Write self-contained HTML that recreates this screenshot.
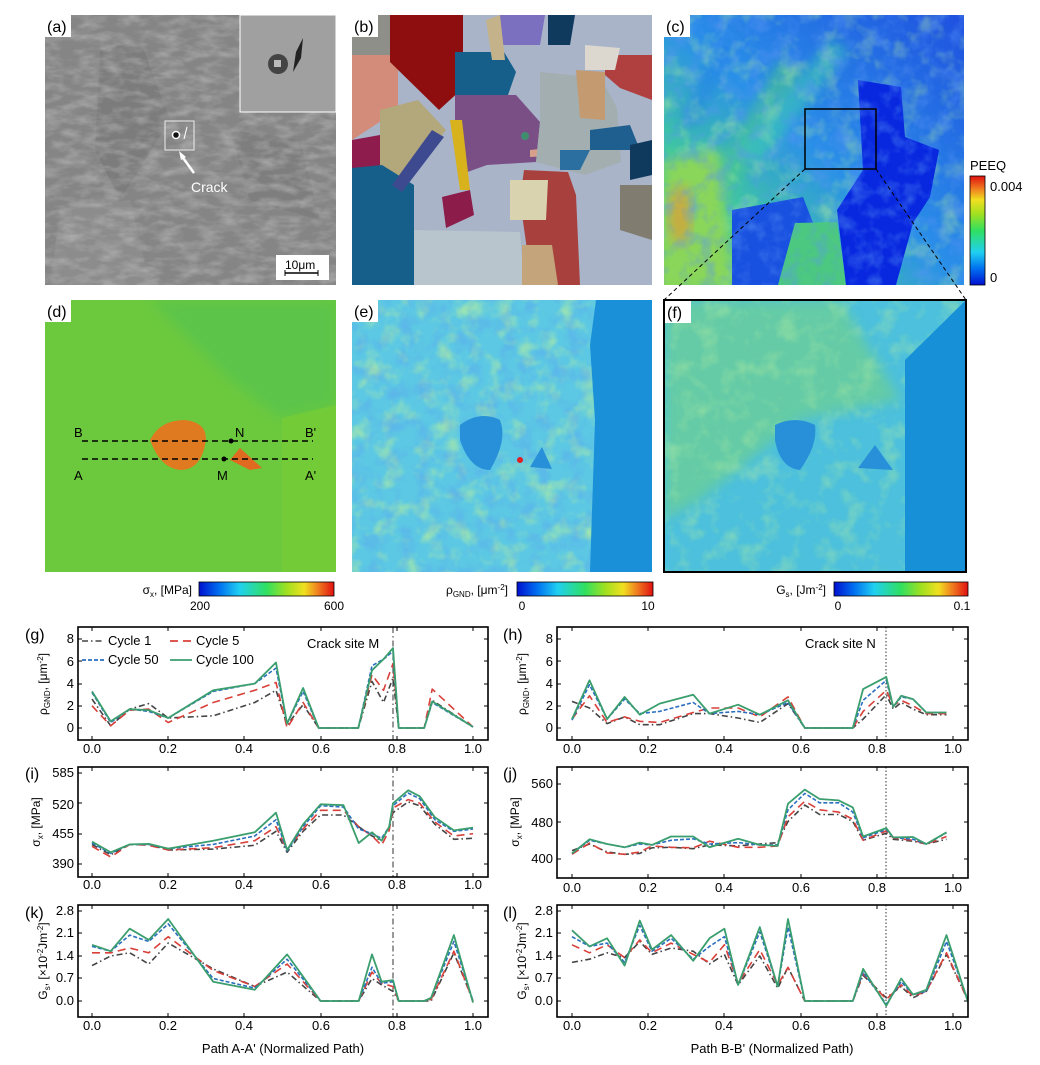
<!DOCTYPE html>
<html><head><meta charset="utf-8"><style>
html,body{margin:0;padding:0;background:#fff;}
svg{display:block;font-family:"Liberation Sans",sans-serif;}
</style></head><body>
<svg id="s" width="1040" height="1065" viewBox="0 0 1040 1065" xmlns="http://www.w3.org/2000/svg">
<defs>
<filter id="nz" x="0" y="0" width="100%" height="100%">
 <feTurbulence type="fractalNoise" baseFrequency="0.05 0.12" numOctaves="3" seed="3"/>
 <feColorMatrix values="0 0 0 0 0.5  0 0 0 0 0.5  0 0 0 0 0.5  0 0 0 1.2 -0.45"/>
</filter>
<filter id="nzc" x="0" y="0" width="100%" height="100%">
 <feTurbulence type="fractalNoise" baseFrequency="0.06" numOctaves="3" seed="7"/>
 <feColorMatrix values="0 0 0 0 0.1  0 0 0 0 0.3  0 0 0 0 0.9  0 0 0 1.6 -0.7"/>
</filter>
<filter id="nzg" x="0" y="0" width="100%" height="100%">
 <feTurbulence type="fractalNoise" baseFrequency="0.05" numOctaves="3" seed="11"/>
 <feColorMatrix values="0 0 0 0 0.45  0 0 0 0 0.85  0 0 0 0 0.35  0 0 0 1.8 -0.85"/>
</filter>
<filter id="bl"><feGaussianBlur stdDeviation="6"/></filter>
<linearGradient id="cg" x1="0" y1="1" x2="1" y2="0">
 <stop offset="0" stop-color="#8ad84a"/><stop offset="0.25" stop-color="#40c8a0"/>
 <stop offset="0.5" stop-color="#2a90e8"/><stop offset="1" stop-color="#1e50e0"/>
</linearGradient>
<linearGradient id="jet" x1="0" x2="1">
 <stop offset="0" stop-color="#0010d0"/><stop offset="0.15" stop-color="#0070f0"/>
 <stop offset="0.3" stop-color="#20d0f0"/><stop offset="0.5" stop-color="#30e060"/>
 <stop offset="0.65" stop-color="#a0e020"/><stop offset="0.78" stop-color="#f0e020"/>
 <stop offset="0.88" stop-color="#f08020"/><stop offset="1" stop-color="#e01010"/>
</linearGradient>
<linearGradient id="jetv" x1="0" y1="1" x2="0" y2="0">
 <stop offset="0" stop-color="#0010d0"/><stop offset="0.15" stop-color="#0070f0"/>
 <stop offset="0.3" stop-color="#20d0f0"/><stop offset="0.5" stop-color="#30e060"/>
 <stop offset="0.65" stop-color="#a0e020"/><stop offset="0.78" stop-color="#f0e020"/>
 <stop offset="0.88" stop-color="#f08020"/><stop offset="1" stop-color="#e01010"/>
</linearGradient>
<clipPath id="ca"><rect x="45" y="15" width="291" height="270"/></clipPath>
<clipPath id="cb"><rect x="352" y="15" width="300" height="270"/></clipPath>
<clipPath id="cc"><rect x="664" y="15" width="300" height="270"/></clipPath>
<clipPath id="cd"><rect x="45" y="300" width="291" height="272"/></clipPath>
<clipPath id="ce"><rect x="352" y="300" width="300" height="272"/></clipPath>
<clipPath id="cf"><rect x="664" y="300" width="302" height="272"/></clipPath>
<clipPath id="pg"><rect x="78" y="627" width="410" height="113"/></clipPath>
<clipPath id="pi"><rect x="78" y="767" width="410" height="110"/></clipPath>
<clipPath id="pk"><rect x="78" y="905" width="410" height="112"/></clipPath>
<clipPath id="ph"><rect x="557" y="627" width="411" height="113"/></clipPath>
<clipPath id="pj"><rect x="557" y="767" width="411" height="111"/></clipPath>
<clipPath id="pl"><rect x="557" y="905" width="411" height="112"/></clipPath>
</defs>

<!-- (a) -->
<g clip-path="url(#ca)">
<rect x="45" y="15" width="291" height="270" fill="#858585"/>
<polygon points="100,50 140,40 170,120 120,200 95,150" fill="#777" opacity="0.6"/>
<polygon points="60,210 130,200 150,285 50,285" fill="#8f8f8f" opacity="0.7"/>
<polygon points="230,130 300,140 320,220 250,200" fill="#7a7a7a" opacity="0.7"/>
<rect x="45" y="15" width="291" height="270" filter="url(#nz)"/>
<rect x="240" y="15" width="96" height="97" fill="#a0a0a0" stroke="#fff" stroke-width="1"/>
<circle cx="278" cy="64" r="10" fill="#444"/><rect x="274" y="60" width="7" height="7" fill="#bbb"/>
<path d="M296,52 L303,38 L301,58 L293,72Z" fill="#222"/>
<rect x="165" y="121" width="29" height="29" fill="none" stroke="#eee" stroke-width="1"/>
<circle cx="176" cy="135" r="3.5" fill="#111" stroke="#fff" stroke-width="1.5"/>
<line x1="184" y1="139" x2="187" y2="127" stroke="#fff" stroke-width="1"/>
<line x1="194" y1="173" x2="181" y2="155" stroke="#fff" stroke-width="2.5"/>
<polygon points="179,151 186,157 181,160" fill="#fff"/>
<text x="191" y="192" font-size="14" fill="#fff">Crack</text>
<rect x="276" y="255" width="53" height="25" fill="#fff"/>
<text x="285" y="269" font-size="12">10μm</text>
<line x1="285" y1="273" x2="318" y2="273" stroke="#000" stroke-width="1.5"/>
<line x1="285" y1="270" x2="285" y2="276" stroke="#000"/><line x1="318" y1="270" x2="318" y2="276" stroke="#000"/>
</g>
<rect x="45" y="15" width="26" height="22" fill="#fff"/><text x="47" y="32" font-size="16">(a)</text>

<!-- (b) -->
<g clip-path="url(#cb)">
<rect x="352" y="15" width="300" height="270" fill="#a9b4c9"/>
<polygon points="352,55 398,55 398,110 352,140" fill="#d38c7a"/>
<polygon points="352,15 400,15 400,55 352,55" fill="#8e8f88"/>
<polygon points="380,110 418,100 446,130 405,185 380,178" fill="#b3a77c"/>
<polygon points="352,140 380,135 380,185 352,190" fill="#8e1c4c"/>
<polygon points="390,15 463,15 463,88 439,110 390,62" fill="#8e0e10"/>
<polygon points="455,52 504,52 516,72 508,95 455,95" fill="#155f8a"/>
<polygon points="455,95 516,95 540,122 536,162 487,165 459,175 455,135" fill="#7a4f86"/>
<circle cx="525" cy="136" r="4" fill="#3f8f6f"/>
<polygon points="530,150 550,148 550,156 530,157" fill="#d6a08a"/>
<polygon points="540,72 601,78 617,108 621,162 585,175 536,162 540,122" fill="#a3aeb0"/>
<polygon points="524,170 568,172 576,195 580,285 532,285 520,200" fill="#a8403e"/>
<polygon points="352,168 382,165 414,185 414,285 352,285" fill="#155f8a"/>
<polygon points="414,230 520,232 524,285 414,285" fill="#b8c5cc"/>
<polygon points="510,180 548,180 546,220 510,220" fill="#dad3b0"/>
<polygon points="522,245 552,245 558,285 522,285" fill="#c4a47a"/>
<polygon points="450,120 462,120 470,190 460,190" fill="#d7b21c"/>
<polygon points="442,197 470,190 474,215 446,228" fill="#8c1c4a"/>
<polygon points="392,185 432,130 444,137 402,192" fill="#3d4a8f"/>
<polygon points="500,15 545,15 540,45 500,45" fill="#7b6fc0"/>
<polygon points="548,15 575,15 570,45 548,45" fill="#0f3a5e"/>
<polygon points="605,55 652,55 652,100 620,88 605,75" fill="#b04040"/>
<polygon points="585,45 620,48 615,70 585,70" fill="#dcd8d0"/>
<polygon points="576,70 605,72 605,120 580,118" fill="#c49a70"/>
<polygon points="590,130 630,125 640,150 590,150" fill="#1f5f8f"/>
<polygon points="630,145 652,140 652,175 630,180" fill="#0f3a5e"/>
<polygon points="620,185 652,185 652,240 620,230" fill="#807c70"/>
<polygon points="486,20 500,15 505,60 492,60" fill="#c4b38a"/>
<polygon points="560,150 590,150 580,170 560,170" fill="#2a6f9f"/>
</g>
<rect x="352" y="15" width="26" height="22" fill="#fff"/><text x="354" y="32" font-size="16">(b)</text>

<!-- (c) -->
<g clip-path="url(#cc)">
<rect x="664" y="15" width="300" height="270" fill="url(#cg)"/>
<g opacity="0.55" filter="url(#bl)">
<polygon points="700,200 780,60 800,70 720,215" fill="#50d080"/>
<polygon points="740,150 830,40 850,50 760,165" fill="#40d0b0"/>
<polygon points="680,120 720,40 735,45 695,130" fill="#2080e8"/>
</g>
<rect x="664" y="15" width="300" height="270" filter="url(#nzg)" opacity="0.6"/>
<polygon points="664,160 719,150 732,285 664,285" fill="#8ad65a" filter="url(#bl)"/>
<ellipse cx="680" cy="215" rx="12" ry="30" fill="#f09030" opacity="0.6" filter="url(#bl)"/>
<polygon points="732,210 803,197 837,285 732,285" fill="#1850e0"/>
<polygon points="795,223 837,222 846,285 778,285" fill="#4cc880"/>
<polygon points="858,80 901,87 905,137 939,150 930,197 913,223 896,285 846,285 837,210 863,170" fill="#0828e0"/>
<rect x="664" y="15" width="300" height="270" filter="url(#nzc)" opacity="0.7"/>
<rect x="805" y="109" width="71" height="60" fill="none" stroke="#000" stroke-width="1.5"/>
</g>
<rect x="664" y="15" width="26" height="22" fill="#fff"/><text x="666" y="32" font-size="16">(c)</text>
<text x="970" y="170" font-size="13">PEEQ</text>
<rect x="970" y="176" width="15" height="109" fill="url(#jetv)" stroke="#000" stroke-width="0.8"/>
<text x="990" y="191" font-size="13">0.004</text><text x="990" y="282" font-size="13">0</text>
<line x1="805" y1="169" x2="664" y2="300" stroke="#000" stroke-dasharray="4,3"/>
<line x1="876" y1="169" x2="966" y2="300" stroke="#000" stroke-dasharray="4,3"/>

<!-- (d) -->
<g clip-path="url(#cd)">
<rect x="45" y="300" width="291" height="272" fill="#6cc93e"/>
<polygon points="150,300 336,300 336,405 280,418 230,380" fill="#48c058" opacity="0.45" filter="url(#bl)"/>
<polygon points="282,418 336,405 336,572 282,572" fill="#76cc36" opacity="0.8"/>
<path d="M150,440 Q160,420 185,420 Q210,423 205,445 Q200,470 180,470 Q160,468 150,440Z" fill="#e07a20"/>
<path d="M230,460 L240,448 L262,468 L250,470Z" fill="#e06a20"/>
<line x1="82" y1="441" x2="313" y2="441" stroke="#000" stroke-width="1.5" stroke-dasharray="6,4"/>
<line x1="82" y1="459" x2="313" y2="459" stroke="#000" stroke-width="1.5" stroke-dasharray="6,4"/>
<circle cx="231" cy="441" r="2.5"/><circle cx="224" cy="459" r="2.5"/>
<text x="74" y="437" font-size="13">B</text><text x="305" y="437" font-size="13">B'</text>
<text x="74" y="480" font-size="13">A</text><text x="305" y="480" font-size="13">A'</text>
<text x="235" y="437" font-size="13">N</text><text x="217" y="480" font-size="13">M</text>
</g>
<rect x="45" y="300" width="26" height="22" fill="#fff"/><text x="47" y="317" font-size="16">(d)</text>

<!-- (e) -->
<g clip-path="url(#ce)">
<rect x="352" y="300" width="300" height="272" fill="#5cc8e4"/>
<rect x="352" y="300" width="300" height="272" filter="url(#nzg)"/>
<rect x="352" y="300" width="300" height="272" filter="url(#nzc)" opacity="0.5"/>
<polygon points="596,300 652,300 652,572 590,572 595,420 590,345" fill="#1a90d8"/>
<path d="M460,425 Q480,410 500,420 Q508,440 490,470 Q470,470 460,440Z" fill="#2890d8"/>
<polygon points="530,467 542,447 552,469" fill="#2890d8"/>
<circle cx="520" cy="460" r="3" fill="#e02020"/>
</g>
<rect x="352" y="300" width="26" height="22" fill="#fff"/><text x="354" y="317" font-size="16">(e)</text>

<!-- (f) -->
<g clip-path="url(#cf)">
<rect x="664" y="300" width="302" height="272" fill="#4cc0dc"/>
<polygon points="664,300 840,300 900,400 800,420 700,500 664,520" fill="#70d090" opacity="0.7" filter="url(#bl)"/>
<rect x="664" y="300" width="302" height="272" filter="url(#nzg)" opacity="0.6"/>
<polygon points="905,360 966,300 966,572 905,572" fill="#1890d8"/>
<path d="M775,425 Q795,415 815,425 Q818,445 800,470 Q780,468 775,440Z" fill="#2890d8"/>
<polygon points="858,468 875,445 893,470" fill="#2890d8"/>
</g>
<rect x="664" y="300" width="302" height="272" fill="none" stroke="#000" stroke-width="2"/>
<rect x="665" y="301" width="26" height="22" fill="#fff"/><text x="667" y="318" font-size="16">(f)</text>

<!-- colorbars -->
<g font-size="12">
<text x="192" y="594" text-anchor="end">σ<tspan font-size="8" dy="3">x</tspan><tspan dy="-3">, [MPa]</tspan></text>
<rect x="199" y="582" width="135" height="14" fill="url(#jet)" stroke="#000" stroke-width="0.8"/>
<text x="200" y="610" text-anchor="middle">200</text><text x="334" y="610" text-anchor="middle">600</text>
<text x="508" y="594" text-anchor="end">ρ<tspan font-size="8" dy="3">GND</tspan><tspan dy="-3">, [μm</tspan><tspan font-size="8" dy="-4">-2</tspan><tspan dy="4">]</tspan></text>
<rect x="517" y="582" width="136" height="14" fill="url(#jet)" stroke="#000" stroke-width="0.8"/>
<text x="522" y="610" text-anchor="middle">0</text><text x="648" y="610" text-anchor="middle">10</text>
<text x="826" y="594" text-anchor="end">G<tspan font-size="8" dy="3">s</tspan><tspan dy="-3">, [Jm</tspan><tspan font-size="8" dy="-4">-2</tspan><tspan dy="4">]</tspan></text>
<rect x="834" y="582" width="134" height="14" fill="url(#jet)" stroke="#000" stroke-width="0.8"/>
<text x="838" y="610" text-anchor="middle">0</text><text x="962" y="610" text-anchor="middle">0.1</text>
</g>

<!-- plot frames & text -->
<g font-size="13" fill="#000">
<text x="25" y="640" font-size="16">(g)</text><text x="503" y="640" font-size="16">(h)</text>
<text x="25" y="779" font-size="16">(i)</text><text x="503" y="779" font-size="16">(j)</text>
<text x="25" y="918" font-size="16">(k)</text><text x="503" y="918" font-size="16">(l)</text>
<g text-anchor="end">
<text x="74" y="732">0</text><text x="74" y="710">2</text><text x="74" y="688">4</text><text x="74" y="666">6</text><text x="74" y="643">8</text>
<text x="553" y="732">0</text><text x="553" y="710">2</text><text x="553" y="688">4</text><text x="553" y="666">6</text><text x="553" y="643">8</text>
<text x="74" y="868">390</text><text x="74" y="838">455</text><text x="74" y="809">520</text><text x="74" y="777">585</text>
<text x="553" y="863">400</text><text x="553" y="827">480</text><text x="553" y="788">560</text>
<text x="74" y="1005">0.0</text><text x="74" y="982">0.7</text><text x="74" y="960">1.4</text><text x="74" y="937">2.1</text><text x="74" y="915">2.8</text>
<text x="553" y="1005">0.0</text><text x="553" y="982">0.7</text><text x="553" y="960">1.4</text><text x="553" y="937">2.1</text><text x="553" y="915">2.8</text>
</g>
<g text-anchor="middle">
<text x="92" y="753">0.0</text><text x="168" y="753">0.2</text><text x="244" y="753">0.4</text><text x="321" y="753">0.6</text><text x="397" y="753">0.8</text><text x="473" y="753">1.0</text>
<text x="92" y="889">0.0</text><text x="168" y="889">0.2</text><text x="244" y="889">0.4</text><text x="321" y="889">0.6</text><text x="397" y="889">0.8</text><text x="473" y="889">1.0</text>
<text x="92" y="1030">0.0</text><text x="168" y="1030">0.2</text><text x="244" y="1030">0.4</text><text x="321" y="1030">0.6</text><text x="397" y="1030">0.8</text><text x="473" y="1030">1.0</text>
<text x="572" y="753">0.0</text><text x="648" y="753">0.2</text><text x="724" y="753">0.4</text><text x="801" y="753">0.6</text><text x="877" y="753">0.8</text><text x="953" y="753">1.0</text>
<text x="572" y="892">0.0</text><text x="648" y="892">0.2</text><text x="724" y="892">0.4</text><text x="801" y="892">0.6</text><text x="877" y="892">0.8</text><text x="953" y="892">1.0</text>
<text x="572" y="1030">0.0</text><text x="648" y="1030">0.2</text><text x="724" y="1030">0.4</text><text x="801" y="1030">0.6</text><text x="877" y="1030">0.8</text><text x="953" y="1030">1.0</text>
<text x="283" y="1053">Path A-A'  (Normalized Path)</text>
<text x="772" y="1053">Path B-B' (Normalized Path)</text>
</g>
<g font-size="12" text-anchor="middle">
<text transform="translate(47,684) rotate(-90)">ρ<tspan font-size="8" dy="3">GND</tspan><tspan dy="-3">, [μm</tspan><tspan font-size="8" dy="-4">-2</tspan><tspan dy="4">]</tspan></text>
<text transform="translate(526,684) rotate(-90)">ρ<tspan font-size="8" dy="3">GND</tspan><tspan dy="-3">, [μm</tspan><tspan font-size="8" dy="-4">-2</tspan><tspan dy="4">]</tspan></text>
<text transform="translate(40,822) rotate(-90)">σ<tspan font-size="8" dy="3">x</tspan><tspan dy="-3">, [MPa]</tspan></text>
<text transform="translate(519,822) rotate(-90)">σ<tspan font-size="8" dy="3">x</tspan><tspan dy="-3">, [MPa]</tspan></text>
<text transform="translate(47,961) rotate(-90)">G<tspan font-size="8" dy="3">s</tspan><tspan dy="-3">, [×10</tspan><tspan font-size="8" dy="-4">-2</tspan><tspan dy="4">Jm</tspan><tspan font-size="8" dy="-4">-2</tspan><tspan dy="4">]</tspan></text>
<text transform="translate(526,961) rotate(-90)">G<tspan font-size="8" dy="3">s</tspan><tspan dy="-3">, [×10</tspan><tspan font-size="8" dy="-4">-2</tspan><tspan dy="4">Jm</tspan><tspan font-size="8" dy="-4">-2</tspan><tspan dy="4">]</tspan></text>
</g>
<text x="108" y="645">Cycle 1</text><text x="196" y="645">Cycle 5</text>
<text x="108" y="664">Cycle 50</text><text x="196" y="664">Cycle 100</text>
<text x="307" y="648">Crack site M</text>
<text x="805" y="648">Crack site N</text>
</g>
<line x1="82" y1="641" x2="104" y2="641" stroke="#444" stroke-width="1.5" stroke-dasharray="6,3,1.5,3"/>
<line x1="170" y1="641" x2="192" y2="641" stroke="#d9403a" stroke-width="1.8" stroke-dasharray="8,5"/>
<line x1="82" y1="660" x2="104" y2="660" stroke="#2a6fc0" stroke-width="1.8" stroke-dasharray="4,2"/>
<line x1="170" y1="660" x2="192" y2="660" stroke="#3a9e6e" stroke-width="1.8"/>
<g id="plots"></g>
<g fill="none" stroke="#000" stroke-width="1.6">
<rect x="78" y="627" width="410" height="113"/><rect x="78" y="767" width="410" height="110"/><rect x="78" y="905" width="410" height="112"/>
<rect x="557" y="627" width="411" height="113"/><rect x="557" y="767" width="411" height="111"/><rect x="557" y="905" width="411" height="112"/>
</g>
</svg>
<script>
(function(){
var NS="http://www.w3.org/2000/svg",G=document.getElementById("plots");
var st=[["#444","6,3,1.5,3"],["#d9403a","8,5"],["#2a6fc0","4,2"],["#3a9e6e",""]];
function add(tag,a,p){var e=document.createElementNS(NS,tag);for(var k in a)e.setAttribute(k,a[k]);(p||G).appendChild(e);return e;}
function plot(clip,x0,yf,xs,ser){var g=add("g",{"clip-path":"url(#"+clip+")"});
 for(var s=0;s<4;s++){var d=ser[s],pts=[];for(var i=0;i<d.length;i++){pts.push((x0+xs[i]*381).toFixed(1)+","+yf(d[i]).toFixed(1));}
  var a={points:pts.join(" "),fill:"none",stroke:st[s][0],"stroke-width":s==3?1.8:1.6,"stroke-linejoin":"round"};if(st[s][1])a["stroke-dasharray"]=st[s][1];add("polyline",a,g);}}
function ticks(x0,x1,y0,y1,xs,ys){for(var i=0;i<xs.length;i++){add("line",{x1:xs[i],x2:xs[i],y1:y1,y2:y1-4,stroke:"#000"});add("line",{x1:xs[i],x2:xs[i],y1:y0,y2:y0+4,stroke:"#000"});}
 for(var j=0;j<ys.length;j++){add("line",{x1:x0,x2:x0+4,y1:ys[j],y2:ys[j],stroke:"#000"});add("line",{x1:x1,x2:x1-4,y1:ys[j],y2:ys[j],stroke:"#000"});}}
var gy=function(v){return 728-v*11.1},iy=function(v){return 864-(v-390)*91/195},jy=function(v){return 859-(v-400)*75/160},ky=function(v){return 1001-v*32.14};
var xL=[92,168,244,321,397,473],xR=[572,648,724,801,877,953];
ticks(78,488,627,740,xL,[728,706,684,661,639]);ticks(78,488,767,877,xL,[864,834,803,773]);ticks(78,488,905,1017,xL,[1001,978,956,933,911]);
ticks(557,968,627,740,xR,[728,706,684,661,639]);ticks(557,968,767,878,xR,[859,822,784]);ticks(557,968,905,1017,xR,[1001,978,956,933,911]);
[[627,740],[767,877],[905,1017]].forEach(function(r){add("line",{x1:393,x2:393,y1:r[0],y2:r[1],stroke:"#555","stroke-width":1.2,"stroke-dasharray":"6,3,1.5,3"});
 add("line",{x1:886,x2:886,y1:r[0],y2:r[1],stroke:"#333","stroke-width":1,"stroke-dasharray":"1.5,2"});});
var xg=[0,.049,.099,.149,.2,.318,.427,.483,.512,.554,.595,.699,.735,.765,.79,.805,.872,.893,1.0];
plot("pg",92,gy,xg,[[2.6,.2,1.7,2.2,.9,1.1,2.3,3.4,.3,2.1,0,0,4.2,2.3,4.5,0,0,2.5,.1],[2.0,.2,1.6,1.7,.5,2.3,3.4,4.1,0,2.3,0,0,4.8,3.4,5.8,0,0,3.5,.1],[3.2,.5,1.7,1.5,.9,3.3,4.0,5.4,.4,3.3,0,0,5.6,6.2,6.9,0,0,2.3,.1],[3.3,.6,1.7,1.6,.9,3.4,4.0,5.9,.4,3.6,0,0,5.2,6.2,7.2,0,0,2.4,.1]]);
var xi=[0,.049,.099,.149,.2,.318,.427,.483,.512,.554,.6,.66,.7,.735,.76,.78,.79,.83,.86,.9,.95,1.0];
plot("pi",92,iy,xi,[[432,410,432,432,420,422,430,460,415,460,495,495,470,450,440,470,500,523,515,475,443,445],[428,405,432,430,420,425,440,470,420,465,505,505,470,450,430,462,510,528,520,480,450,455],[435,413,432,432,423,432,450,485,418,470,515,512,465,455,445,470,515,542,530,485,460,465],[438,415,432,433,423,440,458,500,420,475,518,516,435,458,440,470,520,548,535,490,462,468]]);
var xk=[0,.049,.099,.149,.2,.318,.427,.512,.6,.7,.735,.76,.79,.805,.872,.89,.95,1.0];
plot("pk",92,ky,xk,[[1.1,1.4,1.5,1.15,1.8,1.0,.45,.9,0,0,.7,.5,.3,0,0,0,1.5,0],[1.5,1.5,1.65,1.5,2.0,.95,.45,1.15,0,0,.9,.55,.45,0,0,.05,1.55,0],[1.7,1.55,2.05,1.85,2.4,.7,.4,1.3,0,0,1.05,.55,.6,0,0,.1,1.85,0],[1.75,1.55,2.25,1.9,2.55,.6,.35,1.45,0,0,1.45,.6,.65,0,0,.1,2.05,-.05]]);
var xh=[0,.046,.092,.138,.178,.23,.318,.361,.436,.493,.567,.611,.737,.764,.825,.843,.864,.895,.93,.983];
plot("ph",572,gy,xh,[[2.4,1.8,.4,1.0,.3,.3,1.3,1.3,.9,.5,2.2,0,0,.8,3.0,1.7,2.3,1.7,1.2,1.2],[.8,2.9,.5,1.0,.6,.5,1.4,1.8,1.8,1.0,2.8,0,0,1.5,3.4,2.0,2.5,2.0,1.3,1.3],[.7,3.9,.8,2.6,1.3,1.5,2.3,1.3,1.5,1.2,2.3,0,0,2.5,4.3,1.9,2.8,2.6,1.4,1.4],[.8,4.3,.8,2.8,1.2,2.2,3.0,1.3,2.1,1.2,2.5,0,0,3.5,4.6,1.9,2.9,2.6,1.4,1.4]]);
var xj=[0,.046,.092,.138,.178,.21,.26,.318,.361,.436,.493,.54,.567,.611,.65,.7,.737,.764,.825,.843,.895,.93,.983];
plot("pj",572,jy,xj,[[418,432,415,410,412,424,425,422,430,428,432,435,480,515,495,495,480,440,455,442,438,432,442],[410,434,413,410,415,428,425,424,438,425,425,428,490,523,505,500,485,440,460,445,440,432,448],[412,440,432,425,432,430,440,443,432,435,430,430,505,540,520,520,500,445,463,446,442,432,456],[412,442,432,425,435,430,448,448,425,443,430,428,518,548,528,525,510,448,466,446,447,432,457]]);
var xl=[0,.046,.092,.138,.178,.21,.26,.318,.361,.4,.436,.493,.54,.567,.611,.737,.764,.825,.864,.895,.93,.983,1.04];
plot("pl",572,ky,xl,[[1.2,1.3,1.5,1.35,1.85,1.45,1.65,1.55,1.15,1.45,.5,1.4,.4,1.05,0,0,.8,.1,.45,.1,.3,1.45,0],[1.75,1.5,1.75,1.35,1.9,1.5,1.8,1.45,1.2,1.75,.55,1.6,.5,1.05,0,0,.85,.05,.5,.15,.3,1.5,0],[2.0,1.7,1.8,1.2,2.35,1.55,1.95,1.3,1.7,2.0,.5,2.15,.45,2.3,0,0,.9,-.1,.6,.2,.3,1.85,0],[2.2,1.7,1.95,1.1,2.5,1.6,2.05,1.25,1.95,2.25,.5,2.3,.45,2.55,0,0,1.0,-.15,.7,.2,.35,2.05,-.05]]);
})();
</script>
</body></html>
